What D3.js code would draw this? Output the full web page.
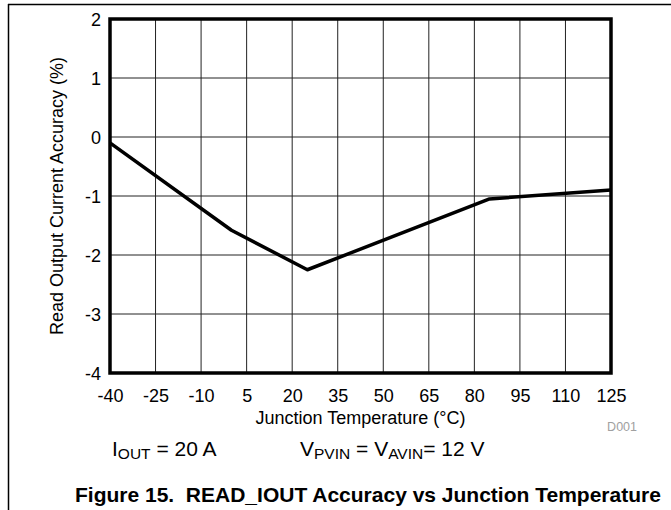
<!DOCTYPE html>
<html>
<head>
<meta charset="utf-8">
<script src="https://cdn.jsdelivr.net/npm/d3@7"></script>
<style>
  html, body { margin: 0; padding: 0; background: #fff; }
  svg { display: block; font-family: "Liberation Sans", Arial, sans-serif; }
</style>
</head>
<body>
<svg id="chart" width="671" height="510"></svg>
<script>
// ---- data ----
const temperatures = [-40, 0, 25, 85, 125];
const accuracy = [-0.1, -1.58, -2.25, -1.05, -0.9];
const xTickValues = [-40, -25, -10, 5, 20, 35, 50, 65, 80, 95, 110, 125];
const yTickValues = [-4, -3, -2, -1, 0, 1, 2];
const xTitle = "Junction Temperature (°C)";
const yTitle = "Read Output Current Accuracy (%)";
const caption = "Figure 15.  READ_IOUT Accuracy vs Junction Temperature";
const sourceId = "D001";

const svg = d3.select("#chart");
const pLeft = 110, pRight = 611, pTop = 19, pBottom = 373;
const x = d3.scaleLinear().domain([-40, 125]).range([pLeft, pRight]);
const y = d3.scaleLinear().domain([-4, 2]).range([pBottom, pTop]);
const fmt = d => String(d);

// page frame lines
svg.append("line").attr("x1", 8).attr("x2", 671).attr("y1", 4.5).attr("y2", 4.5)
  .attr("stroke", "#000").attr("stroke-width", 1.5);
svg.append("line").attr("x1", 8.5).attr("x2", 8.5).attr("y1", 4).attr("y2", 510)
  .attr("stroke", "#000").attr("stroke-width", 1.5);

// grid
const grid = svg.append("g").attr("stroke", "#222").attr("stroke-width", 1);
grid.selectAll("line.v").data(xTickValues.slice(1, -1)).enter().append("line")
  .attr("x1", d => x(d)).attr("x2", d => x(d)).attr("y1", pTop).attr("y2", pBottom);
grid.selectAll("line.h").data(yTickValues.slice(1, -1)).enter().append("line")
  .attr("x1", pLeft).attr("x2", pRight).attr("y1", d => y(d)).attr("y2", d => y(d));

// axes (labels only)
const xAxis = d3.axisBottom(x).tickValues(xTickValues).tickSize(0).tickPadding(0).tickFormat(fmt);
const gx = svg.append("g").attr("transform", `translate(0,${pBottom})`).call(xAxis);
gx.select(".domain").remove();
gx.selectAll("text").attr("font-size", 18).attr("font-family", "Liberation Sans, Arial, sans-serif")
  .attr("fill", "#000").attr("y", 28.5).attr("dy", 0);

const yAxis = d3.axisLeft(y).tickValues(yTickValues).tickSize(0).tickPadding(9).tickFormat(fmt);
const gy = svg.append("g").attr("transform", `translate(${pLeft},0)`).call(yAxis);
gy.select(".domain").remove();
gy.selectAll("text").attr("font-size", 18).attr("font-family", "Liberation Sans, Arial, sans-serif")
  .attr("fill", "#000").attr("dy", "0.35em");

// data line
const line = d3.line().x((d, i) => x(temperatures[i])).y(d => y(d));
svg.append("path").datum(accuracy).attr("d", line)
  .attr("fill", "none").attr("stroke", "#000").attr("stroke-width", 3.5)
  .attr("stroke-linejoin", "round");

// plot border
svg.append("rect").attr("x", pLeft).attr("y", pTop).attr("width", pRight - pLeft).attr("height", pBottom - pTop)
  .attr("fill", "none").attr("stroke", "#000").attr("stroke-width", 3.5);

// titles
svg.append("text").attr("x", (pLeft + pRight) / 2).attr("y", 424).attr("text-anchor", "middle")
  .attr("font-size", 18).text(xTitle);
svg.append("text").attr("transform", `translate(63,${(pTop + pBottom) / 2}) rotate(-90)`)
  .attr("text-anchor", "middle").attr("font-size", 18).text(yTitle);
svg.append("text").attr("x", 637).attr("y", 431).attr("text-anchor", "end")
  .attr("font-size", 12.5).attr("fill", "#a0a0a0").text(sourceId);

// conditions
const c1 = svg.append("text").attr("x", 112).attr("y", 455.5).attr("font-size", 21);
c1.append("tspan").text("I");
c1.append("tspan").attr("font-size", 15.5).attr("dy", 3.5).text("OUT");
c1.append("tspan").attr("dy", -3.5).text(" = 20 A");

const c2 = svg.append("text").attr("x", 300).attr("y", 455.5).attr("font-size", 21);
c2.append("tspan").text("V");
c2.append("tspan").attr("font-size", 15.5).attr("dy", 3.5).text("PVIN");
c2.append("tspan").attr("dy", -3.5).text(" = V");
c2.append("tspan").attr("font-size", 15.5).attr("dy", 3.5).text("AVIN");
c2.append("tspan").attr("dy", -3.5).text("= 12 V");

// caption
svg.append("text").attr("x", 75).attr("y", 502).attr("font-size", 21).attr("font-weight", "bold")
  .style("white-space", "pre").text(caption);
</script>
</body>
</html>
